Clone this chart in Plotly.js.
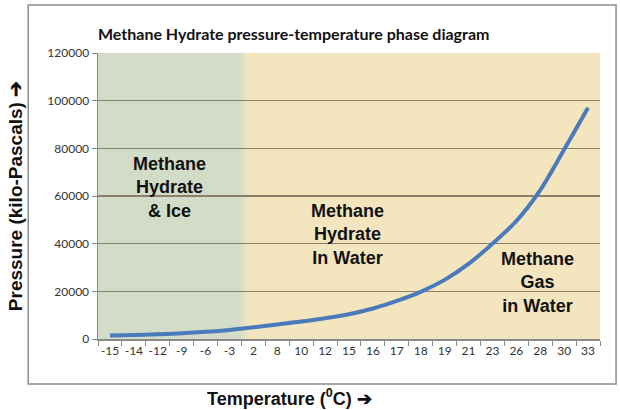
<!DOCTYPE html>
<html>
<head>
<meta charset="utf-8">
<script src="https://cdn.plot.ly/plotly-3.0.1.min.js"></script>
<style>html,body{margin:0;padding:0;background:#fff;}#chart{width:620px;height:410px;}</style>
</head>
<body>
<div id="chart"></div>
<script>
// Temperature categories (°C) as shown on the x axis
const temperatures = ["-15","-14","-12","-9","-6","-3","2","8","10","12","15","16","17","18","19","21","23","26","28","30","33"];
// Equilibrium pressure (kPa)
const pressures = [1500,1700,2000,2400,3000,3800,4900,6100,7300,8700,10400,12800,16000,19800,24800,31500,40000,49500,62500,79500,97000];
const yTicks = [0,20000,40000,60000,80000,100000,120000];
const regionLabels = ["Methane<br>Hydrate<br>& Ice","Methane<br>Hydrate<br>In Water","Methane<br>Gas<br>in Water"];
const lastFrozen = "-3";

const iceEdge = temperatures.indexOf(lastFrozen) + 0.5;
const shapes = [
  {type:"rect", xref:"x", yref:"paper", x0:-0.5, x1:iceEdge, y0:0, y1:1, fillcolor:"rgb(210,220,200)", line:{width:0}, layer:"below"},
  {type:"rect", xref:"x", yref:"paper", x0:iceEdge, x1:iceEdge+0.15, y0:0, y1:1, fillcolor:"rgb(224,224,194)", line:{width:0}, layer:"below"},
  {type:"rect", xref:"x", yref:"paper", x0:iceEdge+0.15, x1:iceEdge+0.3, y0:0, y1:1, fillcolor:"rgb(236,228,191)", line:{width:0}, layer:"below"},
  {type:"rect", xref:"paper", yref:"paper", x0:-0.139, x1:1.032, y0:-0.157, y1:1.168, fillcolor:"rgba(0,0,0,0)", line:{color:"#8c8c8c", width:1.5}, layer:"below"}
];

const trace = {
  x: temperatures, y: pressures, type:"scatter", mode:"lines",
  line:{color:"rgb(74,122,188)", width:4, shape:"spline", smoothing:1},
  hoverinfo:"skip", showlegend:false
};

const annFont = {family:"Liberation Sans, Arial, sans-serif", size:18, color:"#111"};
const layout = {
  width:620, height:410,
  margin:{l:98, r:20, t:53, b:71},
  paper_bgcolor:"#fff",
  plot_bgcolor:"rgb(243,230,190)",
  title:{text:"<b>Methane Hydrate pressure-temperature phase diagram</b>", font:{family:"Lato, sans-serif", size:16, color:"#111"}, x:0.158, xanchor:"left", y:0.915, yanchor:"middle"},
  xaxis:{
    type:"category", categoryarray:temperatures,
    showgrid:false, zeroline:false,
    showline:true, linecolor:"#8a8a8a", linewidth:1.5,
    ticks:"outside", tickson:"boundaries", ticklen:5, tickcolor:"#8a8a8a",
    tickangle:0,
    tickfont:{family:"Lato, sans-serif", size:12, color:"#333"},
    range:[-0.5, temperatures.length-0.5], fixedrange:true
  },
  yaxis:{
    range:[0,120000], tickvals:yTicks, ticktext:yTicks.map(String),
    showgrid:true, gridcolor:"rgb(138,128,106)", gridwidth:1.5,
    zeroline:false, showline:true, linecolor:"#8a8a8a", linewidth:1.5,
    ticks:"outside", ticklen:5, tickcolor:"#8a8a8a",
    tickfont:{family:"Lato, sans-serif", size:12, color:"#333"},
    title:{text:"<b>Pressure (kilo-Pascals) ➔</b>", font:{family:"Liberation Sans, Arial, sans-serif", size:19, color:"#111"}, standoff:19},
    fixedrange:true
  },
  shapes: shapes,
  annotations:[
    {xref:"paper", yref:"paper", x:0.143, y:0.53, xanchor:"center", yanchor:"middle", text:"<b>"+regionLabels[0]+"</b>", showarrow:false, font:annFont, align:"center"},
    {xref:"paper", yref:"paper", x:0.498, y:0.364, xanchor:"center", yanchor:"middle", text:"<b>"+regionLabels[1]+"</b>", showarrow:false, font:annFont, align:"center"},
    {xref:"paper", yref:"paper", x:0.876, y:0.196, xanchor:"center", yanchor:"middle", text:"<b>"+regionLabels[2]+"</b>", showarrow:false, font:annFont, align:"center"},
    {xref:"paper", yref:"paper", x:0.382, y:-0.205, xanchor:"center", yanchor:"middle", text:"<b>Temperature (<sup>0</sup>C) ➔</b>", showarrow:false, font:{family:"Liberation Sans, Arial, sans-serif", size:18, color:"#111"}}
  ]
};

Plotly.newPlot("chart", [trace], layout, {displayModeBar:false, staticPlot:true});
</script>
</body>
</html>
